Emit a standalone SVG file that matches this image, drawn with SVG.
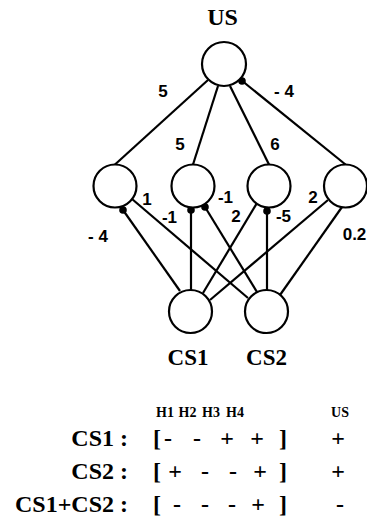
<svg xmlns="http://www.w3.org/2000/svg" width="367" height="517" viewBox="0 0 367 517">
<style>
.node{fill:#fff;stroke:#000;stroke-width:2.2}
.ln{stroke:#000;stroke-width:2.2;fill:none}
.dot{fill:#000}
.w{font-family:"Liberation Sans",Arial,sans-serif;font-weight:bold;font-size:17px;text-anchor:middle}
.t{font-family:"Liberation Serif","Times New Roman",serif;font-weight:bold;text-anchor:middle}
</style>
<rect width="367" height="517" fill="#fff"/>
<g id="connectors">
<line class="ln" x1="115" y1="164.5" x2="208" y2="80"/>
<line class="ln" x1="193" y1="164.5" x2="218" y2="86"/>
<line class="ln" x1="269" y1="164.5" x2="230" y2="86"/>
<line class="ln" x1="345.5" y1="164.5" x2="241" y2="80"/>
<circle class="dot" cx="242" cy="81" r="3.8"/>
<line class="ln" x1="123" y1="210" x2="180" y2="291"/>
<circle class="dot" cx="123" cy="210" r="3.8"/>
<line class="ln" x1="132" y1="199" x2="248" y2="298"/>
<line class="ln" x1="191" y1="210" x2="191" y2="290"/>
<circle class="dot" cx="191" cy="210" r="3.8"/>
<line class="ln" x1="205" y1="207" x2="257" y2="292"/>
<circle class="dot" cx="205" cy="207" r="3.8"/>
<line class="ln" x1="257" y1="203" x2="203" y2="293"/>
<line class="ln" x1="267" y1="211" x2="267" y2="290"/>
<circle class="dot" cx="267" cy="211" r="3.8"/>
<line class="ln" x1="328" y1="200" x2="210" y2="300"/>
<line class="ln" x1="342" y1="207" x2="280" y2="295"/>
</g>
<g id="US"><circle class="node" cx="224" cy="64" r="22"/><text class="t" x="222.5" y="25" font-size="24">US</text></g>
<g id="H1"><circle class="node" cx="115" cy="186" r="21.5"/></g>
<g id="H2"><circle class="node" cx="193" cy="186" r="21.5"/></g>
<g id="H3"><circle class="node" cx="269" cy="186" r="21.5"/></g>
<g id="H4"><circle class="node" cx="345.5" cy="186" r="21.5"/></g>
<g id="CS1"><circle class="node" cx="190.5" cy="311.5" r="21.5"/><text class="t" x="188" y="365" font-size="23">CS1</text></g>
<g id="CS2"><circle class="node" cx="266.5" cy="311.5" r="21.5"/><text class="t" x="266.5" y="365" font-size="23">CS2</text></g>
<g id="weights">
<text class="w" x="163" y="97">5</text>
<text class="w" x="284" y="97">- 4</text>
<text class="w" x="180" y="150">5</text>
<text class="w" x="275" y="150">6</text>
<text class="w" x="147" y="205">1</text>
<text class="w" x="169.5" y="223">-1</text>
<text class="w" x="225.5" y="203">-1</text>
<text class="w" x="236" y="222">2</text>
<text class="w" x="283.5" y="222">-5</text>
<text class="w" x="313" y="203">2</text>
<text class="w" x="98" y="242">- 4</text>
<text class="w" x="354.5" y="240">0.2</text>
</g>
<g id="table">
<text class="t" font-size="14" y="417"><tspan x="165">H1</tspan><tspan x="187.5">H2</tspan><tspan x="211">H3</tspan><tspan x="235">H4</tspan><tspan x="340">US</tspan></text>
<text class="t" font-size="24" x="128" y="446" style="text-anchor:end">CS1 :</text>
<text class="t" font-size="24" x="128" y="479" style="text-anchor:end">CS2 :</text>
<text class="t" font-size="24" x="128" y="512" style="text-anchor:end">CS1+CS2 :</text>
<text class="t" font-size="24" y="446" x="157 168 197 227 257 283 338">[--++]+</text>
<text class="t" font-size="24" y="479" x="157 175 205 233 260 283 338">[+--+]+</text>
<text class="t" font-size="24" y="512" x="157 177 205 232 258 283 340">[---+]-</text>
</g>
</svg>
